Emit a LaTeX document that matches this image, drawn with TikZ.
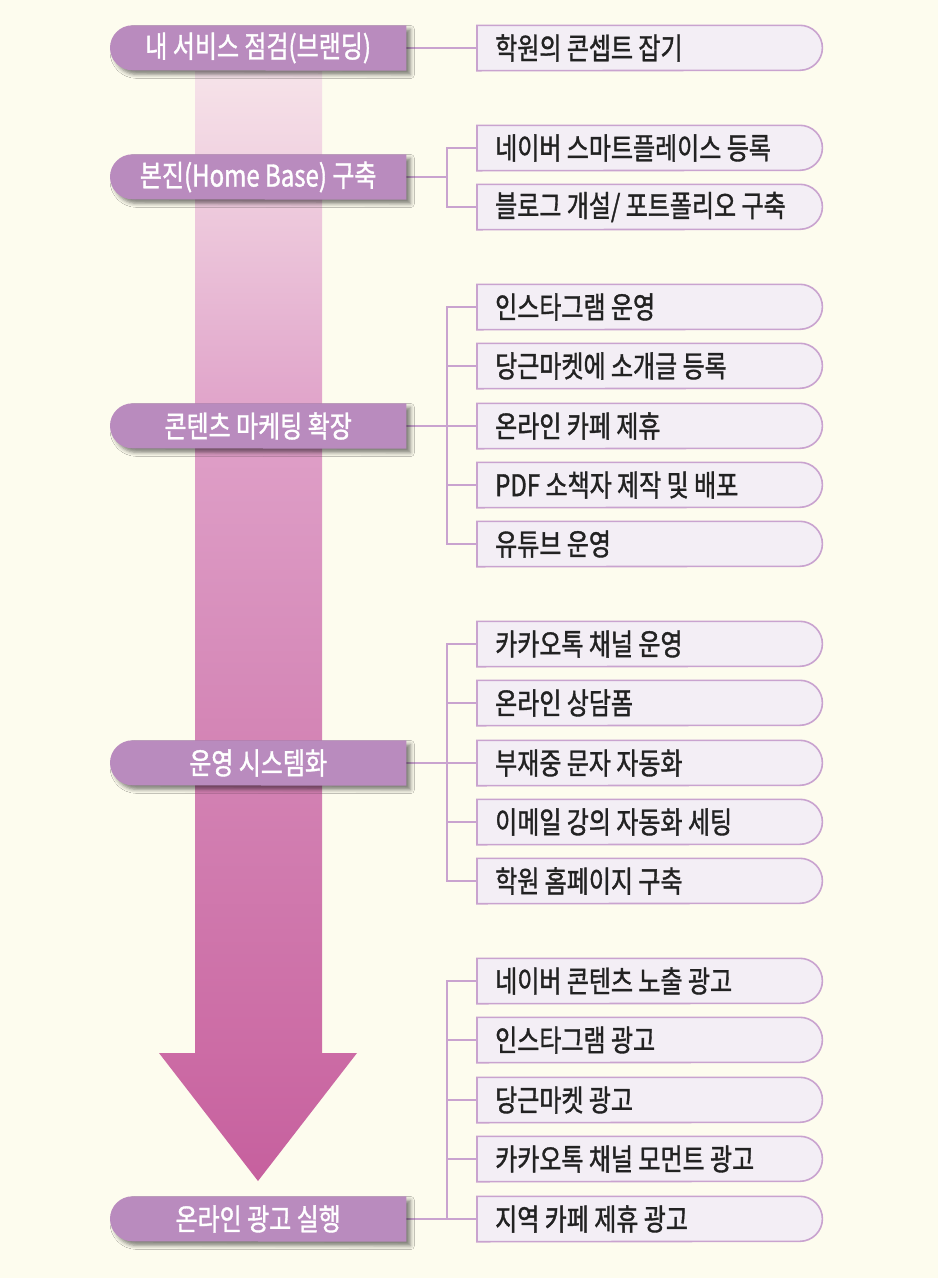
\documentclass[tikz,border=0pt]{standalone}
\usepackage{fontspec}
\newfontfamily\kr[FakeStretch=0.8,FakeBold=1.2]{Noto Sans CJK KR}
\usetikzlibrary{shadows.blur,calc,backgrounds}
\definecolor{bg}{HTML}{FDFCEE}
\definecolor{leftfill}{HTML}{B98BBE}
\definecolor{rightfill}{HTML}{F3EEF5}
\definecolor{rightline}{HTML}{C9A3CF}
\definecolor{txt}{HTML}{222222}
\definecolor{arB}{HTML}{C6609E}
\definecolor{arC}{HTML}{CC6CA5}
\definecolor{arD}{HTML}{D383B4}
\definecolor{arE}{HTML}{DFA0C8}
\definecolor{arF}{HTML}{F1D3E1}
\definecolor{arG}{HTML}{F6E3E9}
\pgfdeclareverticalshading{arrowshade}{100bp}{color(0bp)=(arB); color(25bp)=(arB); color(31bp)=(arC); color(44bp)=(arD); color(59bp)=(arE); color(71bp)=(arF); color(75bp)=(arG); color(100bp)=(arG)}
\tikzset{
  stage/.style={rectangle, draw=none, minimum width=296pt, minimum height=45pt,
    inner xsep=0pt, inner ysep=0pt, anchor=west, text=white, align=center,
    font=\kr\fontsize{30pt}{32pt}\selectfont},
  item/.style={rectangle, draw=none, minimum width=345pt,
    minimum height=45pt, inner xsep=18pt, inner ysep=0pt, text width=309pt,
    align=flush left, anchor=west, text=txt,
    font=\kr\fontsize{30pt}{32pt}\selectfont},
  itemshape/.style={fill=rightfill, draw=rightline, line width=1.6pt},
  stageshape/.style={fill=leftfill,
    blur shadow={shadow xshift=4pt, shadow yshift=-4pt, shadow blur radius=4pt, shadow opacity=50}},
  conn/.style={draw=rightline, line width=1.5pt}
}
\begin{document}
\begin{tikzpicture}[x=1pt,y=-1pt]
\useasboundingbox (0,0) rectangle (938,1278);
\coordinate (bus) at (447,0);
% right items
\node[item] (c11) at (477,48) {학원의 콘셉트 잡기};
\node[item] (c21) at (477,148) {네이버 스마트플레이스 등록};
\node[item] (c22) at (477,207) {블로그 개설/ 포트폴리오 구축};
\node[item] (c31) at (477,307) {인스타그램 운영};
\node[item] (c32) at (477,366) {당근마켓에 소개글 등록};
\node[item] (c33) at (477,426) {온라인 카페 제휴};
\node[item] (c34) at (477,485) {PDF 소책자 제작 및 배포};
\node[item] (c35) at (477,544) {유튜브 운영};
\node[item] (c41) at (477,644) {카카오톡 채널 운영};
\node[item] (c42) at (477,703) {온라인 상담폼};
\node[item] (c43) at (477,763) {부재중 문자 자동화};
\node[item] (c44) at (477,822) {이메일 강의 자동화 세팅};
\node[item] (c45) at (477,881) {학원 홈페이지 구축};
\node[item] (c51) at (477,981) {네이버 콘텐츠 노출 광고};
\node[item] (c52) at (477,1040) {인스타그램 광고};
\node[item] (c53) at (477,1100) {당근마켓 광고};
\node[item] (c54) at (477,1159) {카카오톡 채널 모먼트 광고};
\node[item] (c55) at (477,1219) {지역 카페 제휴 광고};
% stages
\node[stage] (L1) at (110,48) {내 서비스 점검(브랜딩)};
\node[stage] (L2) at (110,177) {본진(Home Base) 구축};
\node[stage] (L3) at (110,426) {콘텐츠 마케팅 확장};
\node[stage] (L4) at (110,763) {운영 시스템화};
\node[stage] (L5) at (110,1219) {온라인 광고 실행};
\begin{pgfonlayer}{background}
\fill[bg] (0,0) rectangle (938,1278);
% big arrow
\shade[shading=arrowshade] (195,71) -- (322,71) -- (322,1053) -- (357,1053)
  -- (258,1181) -- (159,1053) -- (195,1053) -- cycle;
% connectors
\draw[conn] (L1.east) -- (c11.west);
\foreach \c in {c21,c22} \draw[conn] (L2.east) -- (L2.east -| bus) |- (\c.west);
\foreach \c in {c31,c32,c33,c34,c35} \draw[conn] (L3.east) -- (L3.east -| bus) |- (\c.west);
\foreach \c in {c41,c42,c43,c44,c45} \draw[conn] (L4.east) -- (L4.east -| bus) |- (\c.west);
\foreach \c in {c51,c52,c53,c54,c55} \draw[conn] (L5.east) -- (L5.east -| bus) |- (\c.west);
% item shapes
\foreach \n in {c11,c21,c22,c31,c32,c33,c34,c35,c41,c42,c43,c44,c45,c51,c52,c53,c54,c55}
  \draw[itemshape] (\n.south west) -- (\n.north west) -- ($(\n.north east)+(-22.5,0)$)
    arc[start angle=90, end angle=-90, radius=22.5pt] -- cycle;
% stage shapes
\foreach \n in {L1,L2,L3,L4,L5}
  \path[stageshape] (\n.south east) -- (\n.north east) -- ($(\n.north west)+(22.5,0)$)
    arc[start angle=90, end angle=270, radius=22.5pt] -- cycle;
\end{pgfonlayer}
\end{tikzpicture}
\end{document}
